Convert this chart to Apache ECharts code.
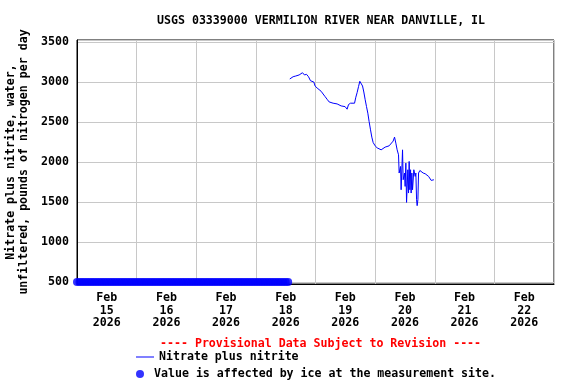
<!DOCTYPE html>
<html>
<head>
<meta charset="utf-8">
<script src="https://cdn.jsdelivr.net/npm/echarts@6/dist/echarts.min.js"></script>
<style>
html,body{margin:0;padding:0;background:#fff;}
#chart{width:576px;height:384px;}
</style>
</head>
<body>
<div id="chart"></div>
<script>
// ---- Data ----
const titleText = 'USGS 03339000 VERMILION RIVER NEAR DANVILLE, IL';
const provisionalText = '---- Provisional Data Subject to Revision ----';
const yAxisName = 'Nitrate plus nitrite, water,\nunfiltered, pounds of nitrogen per day';
const lineName = 'Nitrate plus nitrite';
const iceName = 'Value is affected by ice at the measurement site.';

const axisStart = '2026-02-15 00:00';
const axisEnd = '2026-02-23 00:00';
const dayLabels = ['Feb\n15\n2026','Feb\n16\n2026','Feb\n17\n2026','Feb\n18\n2026',
                   'Feb\n19\n2026','Feb\n20\n2026','Feb\n21\n2026','Feb\n22\n2026'];
const yTickValues = [500, 1000, 1500, 2000, 2500, 3000, 3500];

const nitrateTimes = [
 '2026-02-18 13:39','2026-02-18 14:59','2026-02-18 16:04','2026-02-18 16:35','2026-02-18 17:24',
 '2026-02-18 18:12','2026-02-18 18:46','2026-02-18 19:34','2026-02-18 20:23','2026-02-18 21:11',
 '2026-02-18 21:59','2026-02-18 22:47','2026-02-18 23:19','2026-02-18 23:50','2026-02-19 00:39',
 '2026-02-19 01:27','2026-02-19 02:16','2026-02-19 03:04','2026-02-19 03:52','2026-02-19 04:40',
 '2026-02-19 05:29','2026-02-19 06:17','2026-02-19 07:05','2026-02-19 07:53','2026-02-19 08:42',
 '2026-02-19 09:30','2026-02-19 10:19','2026-02-19 11:07','2026-02-19 11:55','2026-02-19 12:44',
 '2026-02-19 13:17','2026-02-19 14:06','2026-02-19 14:54','2026-02-19 15:43','2026-02-19 16:14',
 '2026-02-19 16:45','2026-02-19 17:19','2026-02-19 17:50','2026-02-19 18:22','2026-02-19 18:56',
 '2026-02-19 19:27','2026-02-19 19:58','2026-02-19 20:32','2026-02-19 21:04','2026-02-19 21:35',
 '2026-02-19 22:09','2026-02-19 22:40','2026-02-19 23:12','2026-02-20 00:00','2026-02-20 00:49',
 '2026-02-20 01:37','2026-02-20 02:25','2026-02-20 03:13','2026-02-20 04:02','2026-02-20 04:50',
 '2026-02-20 05:38','2026-02-20 06:26','2026-02-20 07:15','2026-02-20 07:49','2026-02-20 08:20',
 '2026-02-20 08:52','2026-02-20 09:25','2026-02-20 09:40','2026-02-20 10:14','2026-02-20 10:28',
 '2026-02-20 11:02','2026-02-20 11:17','2026-02-20 11:50','2026-02-20 12:05','2026-02-20 12:22',
 '2026-02-20 12:39','2026-02-20 13:10','2026-02-20 13:27','2026-02-20 13:42','2026-02-20 13:59',
 '2026-02-20 14:16','2026-02-20 14:30','2026-02-20 14:47','2026-02-20 15:04','2026-02-20 15:35',
 '2026-02-20 16:07','2026-02-20 16:24','2026-02-20 16:41','2026-02-20 16:55','2026-02-20 17:13',
 '2026-02-20 17:29','2026-02-20 18:01','2026-02-20 18:32','2026-02-20 19:20','2026-02-20 20:09',
 '2026-02-20 20:57','2026-02-20 21:31','2026-02-20 22:02','2026-02-20 22:34','2026-02-20 23:08',
 '2026-02-20 23:39'
];
const nitrateValues = [
 3038,3066,3075,3059,3088,
 3100,3116,3088,3096,3066,
 3016,3041,3000,2950,2925,
 2900,2884,2850,2817,2784,
 2751,2726,2735,2742,2726,
 2710,2701,2726,2692,2660,
 2718,2735,2742,2735,2810,
 2867,2942,3009,3034,2950,
 2875,2784,2692,2610,2505,
 2402,2311,2244,2202,2177,
 2168,2152,2127,2186,2161,
 2202,2218,2261,2311,2236,
 2152,2090,1862,1944,1653,
 2152,1778,1862,1695,1986,
 1495,1903,1612,2007,1653,
 1903,1612,1862,1653,1903,
 1820,1862,1528,1454,1528,
 1862,1894,1882,1862,1853,
 1828,1820,1799,1770,1787,
 1778
];

// ice-affected period: hours after axis start, plotted at the bottom of the axis
const iceHours = [0,1,2,3,4,5,6,7,8,9,10,11,12,13,14,15,16,17,18,19,20,21,22,23,
                  24,25,26,27,28,29,30,31,32,33,34,35,36,37,38,39,40,41,42,43,44,45,46,47,
                  48,49,50,51,52,53,54,55,56,57,58,59,60,61,62,63,64,65,66,67,68,69,70,71,
                  72,73,74,75,76,77,78,79,80,81,82,83,84,85];
const iceLevel = 500;

// ---- Build ----
const HOUR = 3600000, DAY = 86400000;
function toUTC(s){ return Date.parse(s.replace(' ', 'T') + ':00Z'); }
const t0 = toUTC(axisStart), t1 = toUTC(axisEnd);
const lineData = nitrateTimes.map((t, i) => [toUTC(t), nitrateValues[i]]);
const iceData = iceHours.map(h => [t0 + h * HOUR, iceLevel]);

const FONT = 'DejaVu Sans Mono';
const FS = 11.6;
const legendText = {fontFamily: FONT, fontSize: FS, fontWeight: 'bold', color: '#000'};

const chart = echarts.init(document.getElementById('chart'), null, {renderer: 'canvas'});
chart.setOption({
  animation: false,
  backgroundColor: '#ffffff',
  title: [
    {text: titleText, left: 152, top: 10,
     textStyle: {fontFamily: FONT, fontSize: FS, fontWeight: 'bold', color: '#000'}},
    {text: provisionalText, left: 155, top: 333,
     textStyle: {fontFamily: FONT, fontSize: FS, fontWeight: 'bold', color: '#ff0000'}}
  ],
  grid: {left: 77, right: 22, top: 40, bottom: 100, outerBoundsMode: 'none',
         show: true, borderColor: '#000', borderWidth: 1, backgroundColor: 'transparent'},
  legend: [
    {left: 136, top: 351, itemWidth: 18, itemHeight: 1, padding: 0,
     textStyle: legendText, data: [{name: lineName, icon: 'rect'}]},
    {left: 136, top: 368, itemWidth: 18, itemHeight: 8, padding: 0,
     textStyle: legendText, data: [{name: iceName, icon: 'circle'}]}
  ],
  xAxis: [
    {type: 'value', min: t0, max: t1, interval: DAY, position: 'bottom',
     axisLine: {show: true, lineStyle: {color: '#000'}}, axisTick: {show: false},
     axisLabel: {show: false},
     splitLine: {show: true, lineStyle: {color: '#c8c8c8', width: 1}}},
    {type: 'value', min: 0, max: 16, interval: 1, position: 'bottom',
     axisLine: {show: false}, axisTick: {show: false}, splitLine: {show: false},
     axisLabel: {show: true, margin: 8, interval: 0, showMinLabel: true, showMaxLabel: true,
       fontFamily: FONT, fontSize: FS, fontWeight: 'bold', color: '#000', lineHeight: 12.5,
       formatter: v => (v % 2 === 1 ? dayLabels[(v - 1) / 2] : '')}}
  ],
  yAxis: {
    type: 'value', min: 475, max: 3525, splitNumber: 6,
    name: yAxisName, nameLocation: 'middle', nameRotate: 90, nameGap: 47,
    nameTextStyle: {fontFamily: FONT, fontSize: FS, fontWeight: 'bold', color: '#000', lineHeight: 12.5, align: 'center'},
    axisLine: {show: true, lineStyle: {color: '#000'}}, axisTick: {show: false},
    axisLabel: {margin: 8, fontFamily: FONT, fontSize: FS, fontWeight: 'bold', color: '#000',
      showMinLabel: true, showMaxLabel: true,
      formatter: v => (yTickValues.indexOf(v) >= 0 ? String(v) : '')},
    splitLine: {show: true, lineStyle: {color: '#c8c8c8', width: 1}}
  },
  series: [
    {name: lineName, type: 'line', xAxisIndex: 0, data: lineData, symbol: 'none',
     lineStyle: {color: '#0000ff', width: 1}, itemStyle: {color: '#0000ff'}, z: 3},
    {name: iceName, type: 'scatter', xAxisIndex: 0, data: iceData, symbol: 'circle', symbolSize: 8,
     itemStyle: {color: '#0000ff'}, clip: false, z: 4}
  ]
});
</script>
</body>
</html>
